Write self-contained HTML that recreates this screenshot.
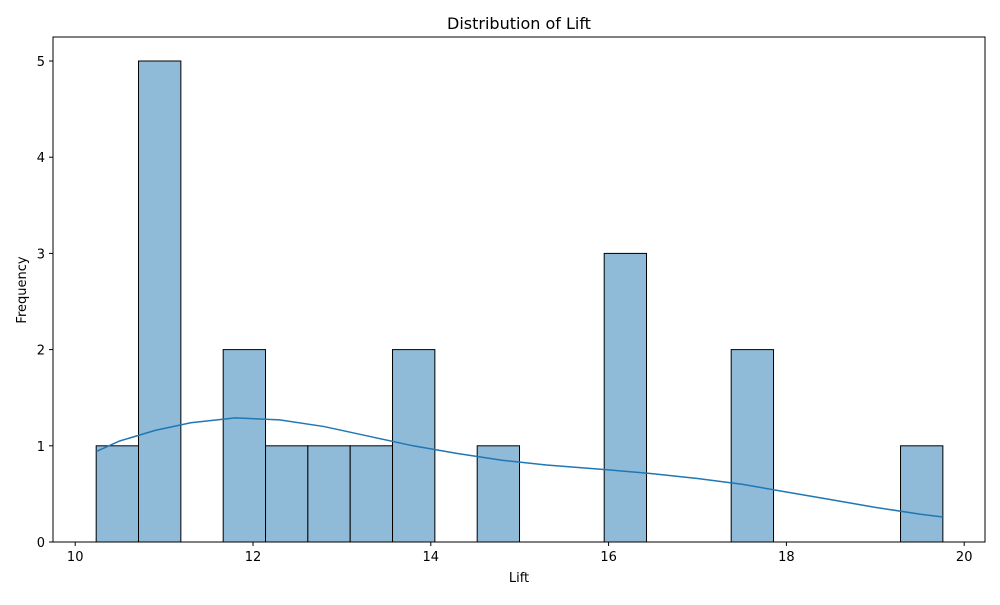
<!DOCTYPE html>
<html><head><meta charset="utf-8"><style>
body{margin:0;background:#fff;font-family:"Liberation Sans","DejaVu Sans",sans-serif}
text{font-family:"DejaVu Sans","Liberation Sans",sans-serif}
</style></head><body>
<svg id="chart" width="1000" height="600" xmlns="http://www.w3.org/2000/svg">
<rect width="1000" height="600" fill="#fff"/>
<text x="519" y="29" font-size="16" text-anchor="middle">Distribution of Lift</text>
<g id="bars"></g><g id="xt"></g><g id="yt"></g>
<path id="kde" fill="none" stroke="#1f77b4" stroke-width="1.5"/>
<rect x="53" y="37" width="932" height="505" fill="none" stroke="#000" stroke-width="1"/>
<text x="519" y="582" font-size="13" text-anchor="middle">Lift</text>
<text transform="translate(26,290) rotate(-90)" font-size="13" text-anchor="middle">Frequency</text>
</svg>
<script>
const binStart=10.236, binWidth=0.4762;
const counts=[1,5,0,2,1,1,1,2,0,1,0,0,3,0,0,2,0,0,0,1];
const kdeX=[10.236,10.5,10.9,11.3,11.8,12.3,12.8,13.3,13.8,14.3,14.8,15.3,16.0,16.5,17.0,17.5,18.0,18.5,19.0,19.5,19.76];
const kdeY=[0.94,1.05,1.16,1.24,1.29,1.27,1.2,1.1,1.0,0.92,0.85,0.8,0.75,0.71,0.66,0.6,0.52,0.44,0.36,0.29,0.26];
const xTicks=[10,12,14,16,18,20];
const yTicks=[0,1,2,3,4,5];
const X=v=>75.2+(v-10)*88.9, Y=v=>542-v*96.2;
const ns="http://www.w3.org/2000/svg";
const mk=(t,a)=>{const e=document.createElementNS(ns,t);for(const k in a)e.setAttribute(k,a[k]);return e;};
const bars=document.getElementById('bars');
counts.forEach((c,i)=>{if(!c)return;const x0=X(binStart+i*binWidth),x1=X(binStart+(i+1)*binWidth);
const r=mk('rect',{x:x0,y:Y(c),width:x1-x0,height:Y(0)-Y(c),fill:'#8fbbd9',stroke:'#000','stroke-width':1});


bars.appendChild(r);});
const xt=document.getElementById('xt');
xTicks.forEach(v=>{const g=mk('g',{});


g.appendChild(mk('line',{x1:X(v),x2:X(v),y1:542,y2:546,stroke:'#000'}));
const t=mk('text',{x:X(v),y:561,'font-size':13,'text-anchor':'middle'});t.textContent=v;g.appendChild(t);xt.appendChild(g);});
const yt=document.getElementById('yt');
yTicks.forEach(v=>{const g=mk('g',{});


g.appendChild(mk('line',{x1:49,x2:53,y1:Y(v),y2:Y(v),stroke:'#000'}));
const t=mk('text',{x:45,y:Y(v)+5,'font-size':13,'text-anchor':'end'});t.textContent=v;g.appendChild(t);yt.appendChild(g);});
document.getElementById('kde').setAttribute('d',kdeX.map((x,i)=>(i?'L':'M')+X(x)+','+Y(kdeY[i])).join(''));
</script>
</body></html>
